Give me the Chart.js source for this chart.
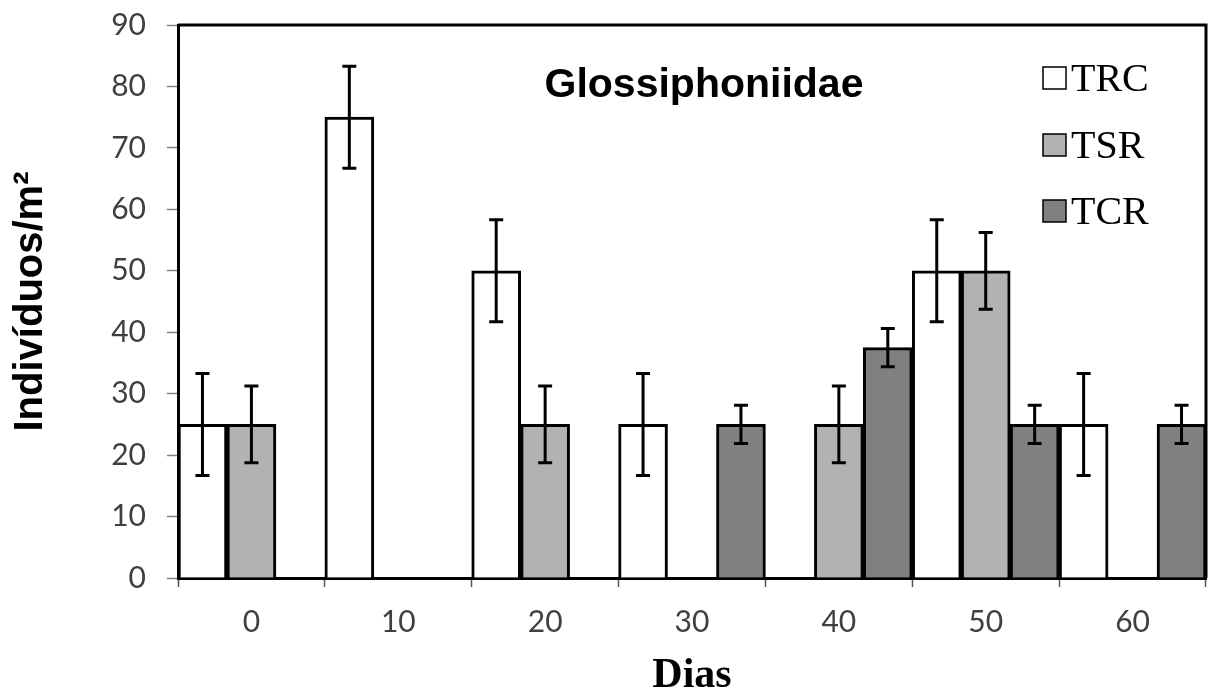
<!DOCTYPE html>
<html lang="pt">
<head>
    <meta charset="UTF-8">
    <title>Glossiphoniidae</title>
    <script src="https://cdn.jsdelivr.net/npm/chart.js"></script>
    <style>
        html, body { margin: 0; padding: 0; background: #fff; }
        #wrap { width: 1210px; height: 693px; }
    </style>
</head>
<body>
    <div id="wrap"><canvas id="chart" width="1210" height="693"></canvas></div>

    <script>
        const days = ['0', '10', '20', '30', '40', '50', '60'];
        const yTicks = [0, 10, 20, 30, 40, 50, 60, 70, 80, 90];

        const trc = [25, 75, 50, 25, 0, 50, 25];
        const tsr = [25, 0, 25, 0, 25, 50, 0];
        const tcr = [0, 0, 0, 25, 37.5, 25, 25];

        const trcErr = [8.3, 8.3, 8.3, 8.3, 0, 8.3, 8.3];
        const tsrErr = [6.25, 0, 6.25, 0, 6.25, 6.25, 0];
        const tcrErr = [0, 0, 0, 3.1, 3.1, 3.1, 3.1];

        // error bars, drawn from the y scale
        const errorBars = {
            id: 'errorBars',
            afterDatasetsDraw(chart) {
                const ctx = chart.ctx;
                const y = chart.scales.y;
                ctx.save();
                ctx.strokeStyle = '#000';
                ctx.lineWidth = 3;
                chart.data.datasets.forEach((ds, i) => {
                    const meta = chart.getDatasetMeta(i);
                    meta.data.forEach((bar, j) => {
                        const e = ds.errors[j];
                        const v = ds.data[j];
                        if (!e) return;
                        const top = y.getPixelForValue(v + e);
                        const bot = y.getPixelForValue(v - e);
                        ctx.beginPath();
                        ctx.moveTo(bar.x, top); ctx.lineTo(bar.x, bot);
                        ctx.moveTo(bar.x - 7, top); ctx.lineTo(bar.x + 7, top);
                        ctx.moveTo(bar.x - 7, bot); ctx.lineTo(bar.x + 7, bot);
                        ctx.stroke();
                    });
                });
                ctx.restore();
            }
        };

        // frame, title and legend inside the plot area
        const decorations = {
            id: 'decorations',
            afterDraw(chart) {
                const ctx = chart.ctx;
                const a = chart.chartArea;
                ctx.save();
                ctx.strokeStyle = '#000';
                ctx.lineWidth = 3;
                ctx.beginPath();
                ctx.moveTo(a.left, a.top);
                ctx.lineTo(a.right, a.top);
                ctx.lineTo(a.right, a.bottom);
                ctx.stroke();

                ctx.fillStyle = '#000';
                ctx.font = 'bold 41px "Liberation Sans", Arial, sans-serif';
                ctx.textAlign = 'center';
                ctx.textBaseline = 'alphabetic';
                ctx.fillText('Glossiphoniidae', 704, 97);

                ctx.textAlign = 'left';
                ctx.font = '40px "Liberation Serif", "Times New Roman", serif';
                const rows = [78, 145, 211];
                chart.data.datasets.forEach((ds, i) => {
                    const cy = rows[i];
                    ctx.fillStyle = ds.backgroundColor;
                    ctx.fillRect(1043, cy - 11, 23, 22);
                    ctx.lineWidth = 1.5;
                    ctx.strokeStyle = '#000';
                    ctx.strokeRect(1043, cy - 11, 23, 22);
                    ctx.fillStyle = '#000';
                    ctx.fillText(ds.label, 1071, cy + 13);
                });
                ctx.restore();
            }
        };

        const barStyle = {
            borderColor: '#000',
            borderWidth: 3,
            categoryPercentage: 1,
            barPercentage: 1
        };

        new Chart(document.getElementById('chart'), {
            type: 'bar',
            data: {
                labels: days,
                datasets: [
                    { label: 'TRC', data: trc, errors: trcErr, backgroundColor: '#ffffff', ...barStyle },
                    { label: 'TSR', data: tsr, errors: tsrErr, backgroundColor: '#b2b2b2', ...barStyle },
                    { label: 'TCR', data: tcr, errors: tcrErr, backgroundColor: '#808080', ...barStyle }
                ]
            },
            options: {
                responsive: false,
                animation: false,
                layout: { padding: { top: 25, right: 4, left: 0, bottom: 0 } },
                plugins: {
                    legend: { display: false },
                    tooltip: { enabled: false }
                },
                scales: {
                    x: {
                        afterFit(scale) {
                            scale.height = 115;
                            scale.paddingLeft = 0;
                            scale.paddingRight = 0;
                        },
                        grid: { offset: true, drawOnChartArea: false, tickLength: 9, tickColor: '#555', tickWidth: 1.5 },
                        border: { color: '#000', width: 3 },
                        ticks: { color: '#404040', padding: 17, font: { family: 'Lato', size: 30 } },
                        title: {
                            display: true, text: 'Dias', color: '#000', padding: 0,
                            font: { family: '"Liberation Serif", serif', size: 42, weight: 'bold', lineHeight: 0.82 }
                        }
                    },
                    y: {
                        min: 0,
                        max: 90,
                        afterFit(scale) {
                            scale.width = 178;
                            scale.paddingTop = 0;
                            scale.paddingBottom = 0;
                        },
                        afterBuildTicks(scale) { scale.ticks = yTicks.map(v => ({ value: v })); },
                        grid: { drawOnChartArea: false, tickLength: 11, tickColor: '#808080', tickWidth: 1.5 },
                        border: { color: '#000', width: 3 },
                        ticks: { color: '#404040', padding: 21, font: { family: 'Lato', size: 30 } },
                        title: {
                            display: true, text: 'Indivíduos/m²', color: '#000', padding: { top: 7, bottom: 0 },
                            font: { family: '"Liberation Sans", Arial, sans-serif', size: 40, weight: 'bold' }
                        }
                    }
                }
            },
            plugins: [errorBars, decorations]
        });
    </script>
</body>
</html>
